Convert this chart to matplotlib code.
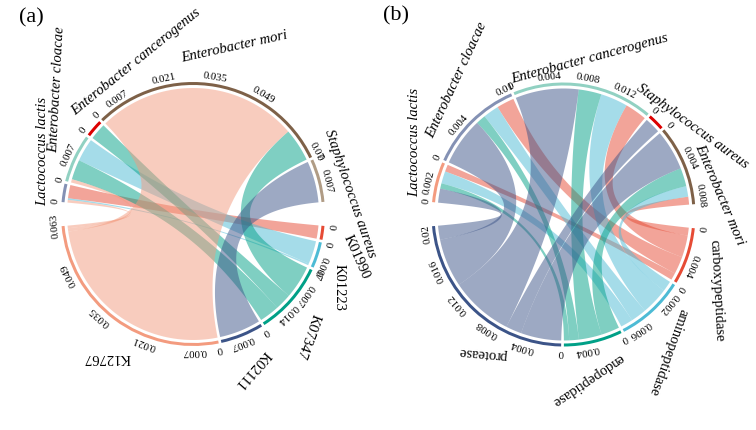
import numpy as np
import matplotlib
matplotlib.use("Agg")
import matplotlib.pyplot as plt
from matplotlib.patches import Polygon, Wedge

plt.rcParams["font.family"] = ["Liberation Serif", "DejaVu Serif"]

# ---- panel (a): species -> KO ----
species_a = ["Lactococcus lactis", "Enterobacter cloacae", "Enterobacter cancerogenus",
             "Enterobacter mori", "Staphylococcus aureus"]
ko_a = ["K01990", "K01223", "K07347", "K02111", "K12767"]
#            K01990  K01223  K07347  K02111  K12767
flow_a = [[0.0040, 0.0005, 0.0000, 0.0000, 0.0008],
          [0.0000, 0.0070, 0.0060, 0.0000, 0.0010],
          [0.0000, 0.0000, 0.0050, 0.0000, 0.0000],
          [0.0000, 0.0000, 0.0100, 0.0000, 0.0610],
          [0.0000, 0.0000, 0.0000, 0.0125, 0.0000]]
species_a_colors = ["#8491B4", "#91D1C2", "#DC0000", "#7E6148", "#B09C85"]
ko_a_colors = ["#E64B35", "#4DBBD5", "#00A087", "#3C5488", "#F39B7F"]
ticks_a = [[0], [0, 0.007], [0], [0, 0.007, 0.021, 0.035, 0.049, 0.07], [0, 0.007],
           [0], [0, 0.007], [0, 0.007, 0.014], [0, 0.007], [0, 0.007, 0.021, 0.035, 0.049, 0.063]]

# ---- panel (b): species -> enzyme ----
species_b = ["Lactococcus lactis", "Enterobacter cloacae", "Enterobacter cancerogenus",
             "Staphylococcus aureus", "Enterobacter mori"]
enz_b = ["carboxypeptidase", "aminopeptidase", "endopeptidase", "protease"]
#          carboxy  amino   endo    protease
flow_b = [[0.0008, 0.0014, 0.0006, 0.0016],
          [0.0020, 0.0018, 0.0011, 0.0055],
          [0.0025, 0.0031, 0.0026, 0.0072],
          [0.0000, 0.0000, 0.0000, 0.0018],
          [0.0009, 0.0012, 0.0021, 0.0046]]
species_b_colors = ["#F39B7F", "#8491B4", "#91D1C2", "#DC0000", "#7E6148"]
enz_b_colors = ["#E64B35", "#4DBBD5", "#00A087", "#3C5488"]
ticks_b = [[0, 0.002], [0, 0.004, 0.01], [0, 0.004, 0.008, 0.012], [0], [0, 0.004, 0.008],
           [0, 0.004], [0, 0.002, 0.006], [0, 0.004], [0, 0.004, 0.008, 0.012, 0.016, 0.02]]

W, H = 756, 430
R_OUT, TRACK_W, R_LINK, R_TICK = 132, 3, 126, 138

# name label layout: (x, y in image pixels, rotation)
names_a_layout = [(43, 151, 90), (57, 90, 87), (136, 62, 39), (234, 47, 12.5), (350, 194, -71),
                  (356, 257, -66), (339, 287, -90), (308, 336, -110), (252, 370, -131), (107, 358, 180)]
names_b_layout = [(415, 142, 90), (457, 80, 65), (590, 59, 15), (692, 126, -36), (720, 195, -67),
                  (717, 291, -87), (668, 352, -110), (588, 380, -146), (483, 353, 175)]


def pt(cx, cy, r, a):
    t = np.radians(a)
    return np.array([cx + r * np.cos(t), cy + r * np.sin(t)])


def arc(cx, cy, r, a1, a2, n=80):
    t = np.radians(np.linspace(a1, a2, n))
    return np.column_stack([cx + r * np.cos(t), cy + r * np.sin(t)])


def bez(p0, c, p2, n=80):
    t = np.linspace(0, 1, n)[:, None]
    return (1 - t) ** 2 * p0 + 2 * (1 - t) * t * c + t ** 2 * p2


def chord_panel(ax, cx, cy, rows, cols, mat, row_colors, col_colors, ticks, layout,
                start=174.8, big_gap=10.5, small_gap=1.2):
    mat = np.array(mat)
    n_r, n_c = mat.shape
    sizes = list(mat.sum(1)) + list(mat.sum(0))
    gaps = [small_gap] * (n_r - 1) + [big_gap] + [small_gap] * (n_c - 1) + [big_gap]
    scale = (360 - sum(gaps)) / sum(sizes)
    starts = []
    a = start
    for s, g in zip(sizes, gaps):
        starts.append(a)
        a -= s * scale + g
    colors = row_colors + col_colors
    names = rows + cols

    # links
    pos_r, pos_c = {}, {}
    for i in range(n_r):
        a = starts[i]
        for j in reversed(range(n_c)):
            if mat[i, j] > 0:
                pos_r[(i, j)] = (a, a - mat[i, j] * scale)
                a -= mat[i, j] * scale
    for j in range(n_c):
        a = starts[n_r + j]
        for i in reversed(range(n_r)):
            if mat[i, j] > 0:
                pos_c[(i, j)] = (a, a - mat[i, j] * scale)
                a -= mat[i, j] * scale
    c = np.array([cx, cy])
    for i in range(n_r):
        for j in range(n_c):
            if mat[i, j] <= 0:
                continue
            a1, a2 = pos_r[(i, j)]
            b1, b2 = pos_c[(i, j)]
            pts = np.vstack([arc(cx, cy, R_LINK, a1, a2),
                             bez(pt(cx, cy, R_LINK, a2), c, pt(cx, cy, R_LINK, b1)),
                             arc(cx, cy, R_LINK, b1, b2),
                             bez(pt(cx, cy, R_LINK, b2), c, pt(cx, cy, R_LINK, a1))])
            ax.add_patch(Polygon(pts, closed=True, fc=col_colors[j], ec="none", alpha=0.5))

    # tracks and ticks
    for k, s in enumerate(sizes):
        ax.add_patch(Wedge((cx, cy), R_OUT, starts[k] - s * scale, starts[k],
                           width=TRACK_W, fc=colors[k], ec="none"))
        for v in ticks[k]:
            ang = starts[k] - v * scale
            x, y = pt(cx, cy, R_TICK, ang)
            ax.text(x, y, "%g" % v, fontsize=7.8, rotation=ang - 90, rotation_mode="anchor",
                    ha="center", va="center")

    # sector names
    for k, (x, y, rot) in enumerate(layout):
        style = "italic" if k < n_r else "normal"
        ax.text(x, H - y, names[k], fontsize=10.5, style=style, rotation=rot,
                rotation_mode="anchor", ha="center", va="center")


fig = plt.figure(figsize=(7.56, 4.30), dpi=100)
ax = fig.add_axes([0, 0, 1, 1])
ax.set_xlim(0, W)
ax.set_ylim(0, H)
ax.axis("off")

chord_panel(ax, 193, H - 214, species_a, ko_a, flow_a, species_a_colors, ko_a_colors,
            ticks_a, names_a_layout)
chord_panel(ax, 563.5, H - 214.5, species_b, enz_b, flow_b, species_b_colors, enz_b_colors,
            ticks_b, names_b_layout, start=174.6)

ax.text(31, H - 18, "(a)", fontsize=16, ha="center", va="center")
ax.text(396, H - 16, "(b)", fontsize=16, ha="center", va="center")

fig.savefig("out.png", dpi=100)
